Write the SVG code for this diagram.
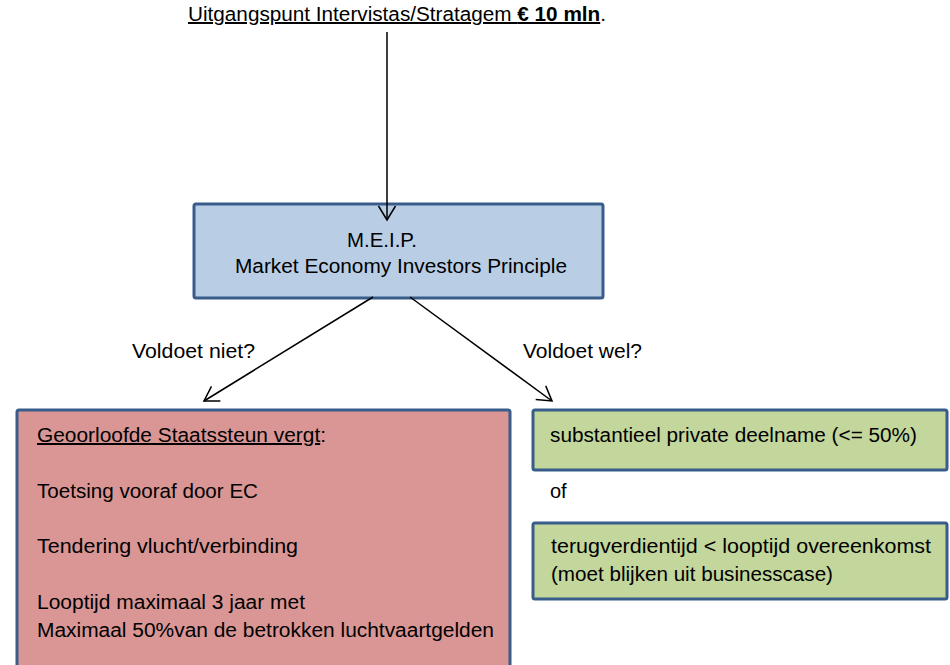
<svg xmlns="http://www.w3.org/2000/svg" width="950" height="665" viewBox="0 0 950 665">
<defs>
<style>
text{font-family:"Liberation Sans",Arial,sans-serif;font-size:20px;fill:#000}
.box{stroke:#385D8A;stroke-width:3}
.blue{fill:#B9CDE5}
.red{fill:#D99694}
.green{fill:#C3D69B}
.conn{stroke:#000;stroke-width:1.5;fill:none}
.u{text-decoration:underline}
</style>
<marker id="arr" markerUnits="userSpaceOnUse" viewBox="-16 -10 18 20" refX="0" refY="0" markerWidth="18" markerHeight="20" orient="auto">
<path d="M-14,-8.5 L0,0 L-14,8.5" fill="none" stroke="#000" stroke-width="1.5"/>
</marker>
</defs>
<rect width="950" height="665" fill="#fff"/>
<g id="title">
<text x="188" y="21" textLength="418" lengthAdjust="spacingAndGlyphs"><tspan class="u">Uitgangspunt Intervistas/Stratagem </tspan><tspan class="u" font-weight="bold">€ 10 mln</tspan><tspan>.</tspan></text>
</g>
<g id="meip">
<rect class="box blue" x="194" y="204" width="409" height="94" rx="2"/>
<text x="347" y="247" textLength="70" lengthAdjust="spacingAndGlyphs">M.E.I.P.</text>
<text x="235" y="273" textLength="332" lengthAdjust="spacingAndGlyphs">Market Economy Investors Principle</text>
</g>
<g id="staatssteun">
<rect class="box red" x="17" y="410" width="493" height="280" rx="2"/>
<text x="37" y="442" textLength="289" lengthAdjust="spacingAndGlyphs"><tspan class="u">Geoorloofde Staatssteun vergt</tspan>:</text>
<text x="37" y="498" textLength="221" lengthAdjust="spacingAndGlyphs">Toetsing vooraf door EC</text>
<text x="37" y="553" textLength="261" lengthAdjust="spacingAndGlyphs">Tendering vlucht/verbinding</text>
<text x="37" y="609" textLength="268" lengthAdjust="spacingAndGlyphs">Looptijd maximaal 3 jaar met</text>
<text x="37" y="637" textLength="457" lengthAdjust="spacingAndGlyphs">Maximaal 50%van de betrokken luchtvaartgelden</text>
</g>
<g id="deelname">
<rect class="box green" x="533" y="410" width="414" height="60" rx="2"/>
<text x="550" y="442" textLength="367" lengthAdjust="spacingAndGlyphs">substantieel private deelname (&lt;= 50%)</text>
</g>
<g id="of">
<text x="550" y="498">of</text>
</g>
<g id="terugverdientijd">
<rect class="box green" x="533" y="523" width="414" height="76" rx="2"/>
<text x="551" y="553" textLength="380" lengthAdjust="spacingAndGlyphs">terugverdientijd &lt; looptijd overeenkomst</text>
<text x="551" y="581" textLength="282" lengthAdjust="spacingAndGlyphs">(moet blijken uit businesscase)</text>
</g>
<g id="connectors">
<line class="conn" x1="387" y1="32" x2="387" y2="220" marker-end="url(#arr)"/>
<line class="conn" x1="373" y1="297" x2="204" y2="401" marker-end="url(#arr)"/>
<line class="conn" x1="410" y1="297" x2="552" y2="401" marker-end="url(#arr)"/>
<text x="132" y="358" textLength="123" lengthAdjust="spacingAndGlyphs">Voldoet niet?</text>
<text x="523" y="358" textLength="119" lengthAdjust="spacingAndGlyphs">Voldoet wel?</text>
</g>
</svg>
